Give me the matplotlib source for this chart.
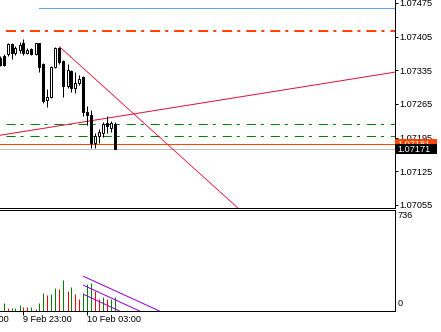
import numpy as np
import matplotlib
matplotlib.use("Agg")
import matplotlib.pyplot as plt
from matplotlib.patches import Rectangle
from matplotlib.transforms import blended_transform_factory

plt.rcParams['font.family'] = ['Liberation Sans', 'DejaVu Sans']
plt.rcParams['lines.scale_dashes'] = False

# EURUSD M15, bar 0 = 9 Feb 21:45, bar 5 = 23:00, bar 21 = 10 Feb 03:00
bars = list(range(-1, 29))
opens = [1.07361, 1.07365, 1.07369, 1.07390, 1.07371, 1.07377, 1.07392, 1.07371, 1.07379, 1.07369,
         1.07392, 1.07348, 1.07273, 1.07279, 1.07342, 1.07381, 1.07354, 1.07302, 1.07334, 1.07298,
         1.07309, 1.07321, 1.07248, 1.07242, 1.07184, 1.07198, 1.07205, 1.07225, 1.07215, 1.07223]
highs = [1.07365, 1.07369, 1.07392, 1.07392, 1.07386, 1.07394, 1.07400, 1.07381, 1.07381, 1.07392,
         1.07392, 1.07350, 1.07296, 1.07344, 1.07383, 1.07384, 1.07356, 1.07348, 1.07336, 1.07331,
         1.07325, 1.07323, 1.07261, 1.07252, 1.07205, 1.07213, 1.07227, 1.07240, 1.07230, 1.07227]
lows = [1.07344, 1.07344, 1.07365, 1.07359, 1.07367, 1.07371, 1.07367, 1.07369, 1.07367, 1.07367,
        1.07331, 1.07267, 1.07259, 1.07277, 1.07340, 1.07348, 1.07279, 1.07298, 1.07290, 1.07288,
        1.07304, 1.07240, 1.07221, 1.07173, 1.07173, 1.07184, 1.07196, 1.07205, 1.07207, 1.07171]
closes = [1.07346, 1.07346, 1.07390, 1.07371, 1.07381, 1.07388, 1.07371, 1.07377, 1.07369, 1.07392,
          1.07342, 1.07271, 1.07279, 1.07342, 1.07381, 1.07352, 1.07302, 1.07336, 1.07298, 1.07309,
          1.07317, 1.07248, 1.07242, 1.07184, 1.07198, 1.07207, 1.07223, 1.07219, 1.07225, 1.07171]

vol_bars = list(range(0, 29))
volumes = [58, 22, 22, 22, 44, 29, 29, 29, 15, 58, 131, 117, 124, 168, 161, 226, 146, 175, 124, 88,
           131, 197, 204, 146, 88, 102, 88, 88, 102]
vol_colors = ['g', 'r', 'g', 'g', 'g', 'r', 'r', 'g', 'r', 'g', 'g', 'r', 'g', 'g', 'r', 'g', 'r', 'g',
              'r', 'r', 'g', 'g', 'g', 'r', 'r', 'g', 'r', 'g', 'g']

price_ticks = [1.07475, 1.07405, 1.07335, 1.07265, 1.07195, 1.07125, 1.07055]
time_ticks = [-11, 5, 21]
time_labels = ['9 Feb 19:00', '9 Feb 23:00', '10 Feb 03:00']

blue_level = 1.07464
red_dashdot_level = 1.07417
green_levels = [1.07223, 1.07198]
ask_price = 1.07181
bid_price = 1.07171

rising_line = [(0, 1.07201), (97, 1.07330)]
falling_line = [(14, 1.07384), (58, 1.07053)]
vol_channel = [[(20, 253), (39, 0)], [(20, 188), (34, 0)], [(20, 122), (29, 0)]]

W, H = 441, 332
LW = 0.72  # 1 px at 100 dpi
fig = plt.figure(figsize=(W / 100, H / 100), dpi=100, facecolor='white')
ax = fig.add_axes([0, 1 - 207.5 / H, 394.5 / W, 207.5 / H])
axv = fig.add_axes([0, 1 - 311 / H, 394.5 / W, (311 - 209.5) / H])

# 4 px per bar, bar centres on pixel centres
xlim = (-3.5 / 4, (394.5 - 3.5) / 4)
for a in (ax, axv):
    a.set_xlim(*xlim)
    a.set_facecolor('white')
ax.set_ylim(1.070496, 1.074812)
axv.set_ylim(0, 741)

# candles
o = np.array(opens)
c = np.array(closes)
up = c >= o
ax.vlines(bars, lows, highs, color='black', lw=LW, zorder=3)
ax.bar(bars, np.abs(c - o), bottom=np.minimum(o, c), width=0.5,
       color=np.where(up, 'white', 'black'), edgecolor='black', linewidth=LW, zorder=4)

# horizontal levels
ax.plot([9, 200], [blue_level] * 2, color='#5aa5ee', lw=LW, zorder=2)
ax.plot([0.6, 200], [red_dashdot_level] * 2, color='#ff4500', lw=1.44,
        ls=(0, (7.2, 3.6, 2.2, 4.3)), zorder=2)
for lvl in green_levels:
    ax.plot([0.6, 200], [lvl] * 2, color='#008000', lw=LW,
            ls=(0, (6.5, 3.6, 2.2, 5.0)), zorder=2)
ax.axhline(ask_price, color='#ff4500', lw=LW, zorder=2)
ax.axhline(bid_price, color='#c0c0c0', lw=LW, zorder=2)

# trend lines
ax.axline(rising_line[0], rising_line[1], color='#dc143c', lw=LW, zorder=2)
(b1, p1), (b2, p2) = falling_line
slope = (p2 - p1) / (b2 - b1)
ax.plot([b1, b1 + 100], [p1, p1 + slope * 100], color='#dc143c', lw=0.6, zorder=2)

# price axis
ax.yaxis.tick_right()
ax.set_yticks(price_ticks)
ax.set_yticklabels(['%.5f' % p for p in price_ticks])
ax.tick_params(axis='y', direction='out', length=2.2, width=LW, pad=1.5, labelsize=6.6)
ax.tick_params(axis='x', bottom=False, labelbottom=False)
ax.spines['top'].set_visible(False)
ax.spines['left'].set_visible(False)
for s in ('bottom', 'right'):
    ax.spines[s].set_linewidth(LW)

# current price boxes
tr = blended_transform_factory(ax.transAxes, ax.transData)
px = 0.0000208
for price, col, z in [(ask_price, '#ff4500', 6), (bid_price, 'black', 7)]:
    ax.add_patch(Rectangle((1.0, price - 5.3 * px), 0.107, 10.6 * px, transform=tr,
                           facecolor=col, edgecolor='none', clip_on=False, zorder=z))
    ax.text(1.007, price, '%.5f' % price, transform=tr, color='white', fontsize=6.6,
            ha='left', va='center', clip_on=False, zorder=z)

# volumes
axv.vlines(vol_bars, 0, volumes, colors=['#008000' if v == 'g' else '#ff0000' for v in vol_colors],
           lw=LW, zorder=3)
for (xa, ya), (xb, yb) in vol_channel:
    axv.plot([xa, xb], [ya, yb], color='#9400d3', lw=LW, zorder=4)
axv.spines['left'].set_visible(False)
for s in ('top', 'right', 'bottom'):
    axv.spines[s].set_linewidth(LW)
axv.set_yticks([])
axv.set_xticks(time_ticks[1:])
axv.set_xticklabels([])
axv.tick_params(axis='x', direction='out', length=3, width=LW)

fig.text(398 / W, 1 - 216 / H, '736', fontsize=6.6, ha='left', va='center')
fig.text(398 / W, 1 - 304 / H, '0', fontsize=6.6, ha='left', va='center')

ttr = blended_transform_factory(axv.transData, fig.transFigure)
for b, lab in zip(time_ticks, time_labels):
    axv.text(b, 1 - 320 / H, lab, transform=ttr, fontsize=6.6, ha='left', va='center',
             clip_on=False)

fig.savefig('out.png', dpi=100, facecolor='white')
